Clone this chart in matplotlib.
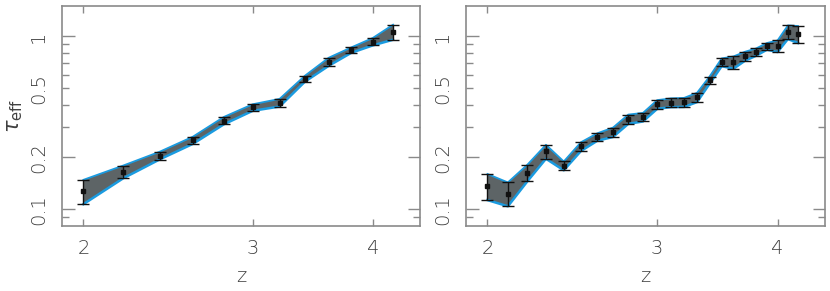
import matplotlib.pyplot as plt
from matplotlib.ticker import FixedLocator, FuncFormatter, NullLocator

# left panel: dz = 0.2
z_left = [2.0, 2.2, 2.4, 2.6, 2.8, 3.0, 3.2, 3.4, 3.6, 3.8, 4.0, 4.2]
tau_left = [0.128, 0.165, 0.204, 0.251, 0.326, 0.388, 0.413, 0.569, 0.713, 0.834, 0.932, 1.06]
hi_left = [0.148, 0.179, 0.215, 0.263, 0.342, 0.405, 0.435, 0.592, 0.753, 0.864, 0.979, 1.169]
lo_left = [0.107, 0.151, 0.194, 0.239, 0.310, 0.371, 0.393, 0.547, 0.676, 0.804, 0.887, 0.957]

# right panel: dz = 0.1
z_right = [2.0, 2.1, 2.2, 2.3, 2.4, 2.5, 2.6, 2.7, 2.8, 2.9, 3.0, 3.1,
           3.2, 3.3, 3.4, 3.5, 3.6, 3.7, 3.8, 3.9, 4.0, 4.1, 4.2]
tau_right = [0.137, 0.123, 0.163, 0.217, 0.179, 0.231, 0.262, 0.279, 0.332, 0.341, 0.404, 0.413,
             0.417, 0.446, 0.561, 0.711, 0.707, 0.770, 0.812, 0.875, 0.884, 1.06, 1.027]
hi_right = [0.160, 0.143, 0.181, 0.236, 0.189, 0.244, 0.275, 0.297, 0.353, 0.361, 0.428, 0.438,
            0.441, 0.472, 0.586, 0.746, 0.766, 0.815, 0.852, 0.916, 0.948, 1.158, 1.149]
lo_right = [0.113, 0.104, 0.145, 0.196, 0.168, 0.217, 0.249, 0.262, 0.312, 0.322, 0.381, 0.390,
            0.391, 0.417, 0.532, 0.673, 0.650, 0.723, 0.773, 0.838, 0.812, 0.966, 0.916]

x_ticks = [2, 3, 4]
y_major = [0.1, 0.2, 1]
y_minor = [0.09, 0.3, 0.4, 0.5, 0.6, 0.7, 0.8, 0.9]
y_labels = {0.1: '0.1', 0.2: '0.2', 0.5: '0.5', 1.0: '1'}

plt.rcParams['font.family'] = ['DejaVu Sans']
plt.rcParams['mathtext.fontset'] = 'dejavusans'

fig = plt.figure(figsize=(8.3, 2.91), dpi=100)
W, H = 830, 291
ax1 = fig.add_axes([62 / W, 1 - 226 / H, (420 - 62) / W, 220 / H])
ax2 = fig.add_axes([466 / W, 1 - 226 / H, (825 - 466) / W, 220 / H])

spine_col = '#8a8a8a'
text_col = '#404040'


def fmt_y(v, pos):
    for k, s in y_labels.items():
        if abs(v - k) < 1e-6:
            return s
    return ''


for ax, z, tau, hi, lo in [(ax1, z_left, tau_left, hi_left, lo_left),
                           (ax2, z_right, tau_right, hi_right, lo_right)]:
    ax.fill_between(z, lo, hi, facecolor='#5d6466', edgecolor='none', zorder=1)
    ax.plot(z, hi, color='#1a9be0', lw=1.3, zorder=2)
    ax.plot(z, lo, color='#1a9be0', lw=1.8, zorder=2)
    ax.errorbar(z, tau, yerr=[[t - l for t, l in zip(tau, lo)], [h - t for t, h in zip(tau, hi)]],
                fmt='s', color='#111111', ms=2.2, lw=1.0, capsize=4, capthick=1.0, zorder=3)

    ax.set_xscale('log')
    ax.set_yscale('log')
    ax.set_xlim(1.9, 4.48)
    ax.set_ylim(0.08, 1.5)

    ax.xaxis.set_major_locator(FixedLocator(x_ticks))
    ax.xaxis.set_major_formatter(FuncFormatter(lambda v, p: '%d' % round(v)))
    ax.xaxis.set_minor_locator(NullLocator())
    ax.yaxis.set_major_locator(FixedLocator(y_major))
    ax.yaxis.set_minor_locator(FixedLocator(y_minor))
    ax.yaxis.set_major_formatter(FuncFormatter(fmt_y))
    ax.yaxis.set_minor_formatter(FuncFormatter(fmt_y))

    ax.tick_params(axis='both', which='both', direction='in', top=True, right=True,
                   colors=spine_col, labelcolor=text_col, labelsize=14, width=1.0)
    ax.tick_params(axis='x', which='major', length=5, pad=9)
    ax.tick_params(axis='y', which='major', length=9, pad=10)
    ax.tick_params(axis='y', which='minor', length=5, pad=10)
    for lab in ax.get_yticklabels(which='both'):
        lab.set_rotation(90)
        lab.set_va('center')
    for lab in ax.get_xticklabels() + ax.get_yticklabels(which='both'):
        lab.set_fontweight('light')

    for s in ax.spines.values():
        s.set_color(spine_col)
        s.set_linewidth(1.2)

    ax.set_xlabel('z', fontsize=14, color=text_col, labelpad=7, fontweight='light')

ax1.set_ylabel(r'$\tau_{\rm eff}$', fontsize=15, color=text_col, labelpad=3)

fig.savefig('out.png', dpi=100)
